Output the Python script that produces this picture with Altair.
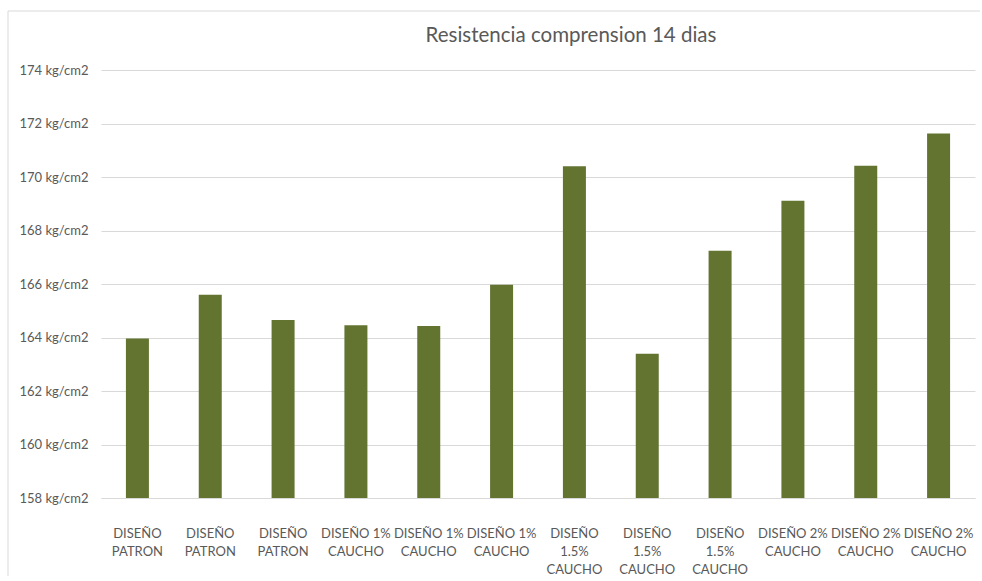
import json
import altair as alt
import pandas as pd

categories = [
    ["DISEÑO", "PATRON"],
    ["DISEÑO", "PATRON"],
    ["DISEÑO", "PATRON"],
    ["DISEÑO 1%", "CAUCHO"],
    ["DISEÑO 1%", "CAUCHO"],
    ["DISEÑO 1%", "CAUCHO"],
    ["DISEÑO", "1.5%", "CAUCHO"],
    ["DISEÑO", "1.5%", "CAUCHO"],
    ["DISEÑO", "1.5%", "CAUCHO"],
    ["DISEÑO 2%", "CAUCHO"],
    ["DISEÑO 2%", "CAUCHO"],
    ["DISEÑO 2%", "CAUCHO"],
]
values = [163.96, 165.60, 164.65, 164.46, 164.43, 165.97,
          170.40, 163.39, 167.24, 169.11, 170.42, 171.63]
y_ticks = [158, 160, 162, 164, 166, 168, 170, 172, 174]
title = "Resistencia comprension 14 dias"

df = pd.DataFrame({"idx": list(range(len(values))), "value": values})

label_expr = json.dumps(categories, ensure_ascii=False) + "[datum.value]"

FONT = "Lato"
TXT = "#595959"
GRID = "#d9d9d9"

bars = alt.Chart(df).mark_bar(color="#627430", size=23).encode(
    x=alt.X("idx:O", title=None,
            scale=alt.Scale(paddingInner=0, paddingOuter=0),
            axis=alt.Axis(labelExpr=label_expr, labelAngle=0, ticks=False,
                          domain=True, domainColor=GRID, labelPadding=29,
                          labelLineHeight=18, labelFontSize=13,
                          labelColor=TXT, labelFont=FONT, grid=False)),
    y=alt.Y("value:Q", title=None,
            scale=alt.Scale(domain=[158, 174], nice=False, zero=False, clamp=True),
            axis=alt.Axis(values=y_ticks, labelExpr="datum.value + ' kg/cm2'",
                          ticks=False, domain=False, labelPadding=13,
                          labelFontSize=13, labelColor=TXT, labelFont=FONT,
                          grid=True, gridColor=GRID, gridWidth=1)),
    y2=alt.datum(158),
)

# chart-area frame (extends past the right and bottom edges, as in the reference)
frame = alt.Chart(df.head(1)).mark_rect(
    fill="transparent", stroke=GRID, strokeWidth=1).encode(
    x=alt.value(-93), x2=alt.value(900), y=alt.value(-59), y2=alt.value(530))

chart = alt.layer(frame, bars).properties(
    width=874, height=428,
    background="white",
    title=alt.TitleParams(title, font=FONT, fontSize=20.5, fontWeight="normal",
                          color=TXT, anchor="middle", frame="group",
                          dx=33, offset=-36),
    autosize=alt.AutoSizeParams(type="none"),
    padding={"left": 101, "top": 70, "right": 5, "bottom": 78},
).configure_view(strokeWidth=0, stroke="transparent")

chart.save("out.html", embed_options={"renderer": "svg", "actions": False})
